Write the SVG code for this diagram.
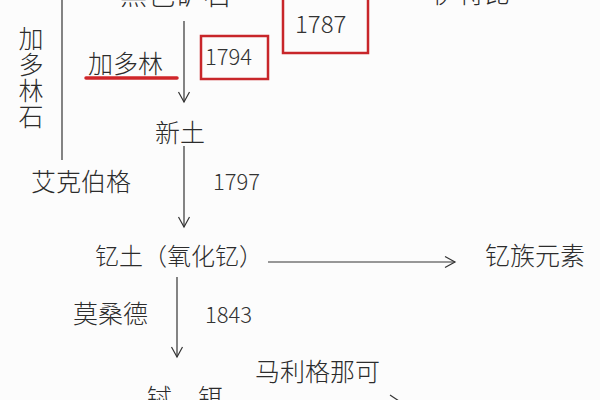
<svg xmlns="http://www.w3.org/2000/svg" width="600" height="400" viewBox="0 0 600 400">
<style>
.t{font-family:"Noto Sans CJK SC","Noto Sans",sans-serif;font-weight:300;fill:#2c2c2c;font-size:25px}
.n{font-family:"Noto Sans CJK SC","Noto Sans",sans-serif;font-weight:300;fill:#333;font-size:22px}
.ln{stroke:#333;stroke-width:1.2;fill:none}
.box{fill:none;stroke:#c8262a;stroke-width:2.5}
</style>
<defs>
<marker id="ah" markerUnits="userSpaceOnUse" markerWidth="16" markerHeight="16" viewBox="-12 -8 14 16" refX="0" refY="0" orient="auto">
<path d="M-10,-5.5 L0,0 L-10,5.5" fill="none" stroke="#333" stroke-width="1.2"/>
</marker>
</defs>
<rect width="600" height="400" fill="#fcfcfc"/>
<g id="connectors">
<line class="ln" x1="62" y1="0" x2="62" y2="160"/>
<line class="ln" x1="184" y1="21" x2="184" y2="102" marker-end="url(#ah)"/>
<line class="ln" x1="184" y1="146" x2="184" y2="227" marker-end="url(#ah)"/>
<line class="ln" x1="268" y1="262" x2="455" y2="262" marker-end="url(#ah)"/>
<line class="ln" x1="177" y1="277" x2="177" y2="357" marker-end="url(#ah)"/>
<line class="ln" x1="390" y1="395" x2="405" y2="405"/>
</g>
<g id="n-heise"><text class="t" x="120" y="5" style="font-size:27px;letter-spacing:1px">黑色矿石</text></g>
<g id="n-yitebi"><text class="t" x="432" y="3" style="font-size:26px">伊特比</text></g>
<g id="n-1787"><rect class="box" x="283" y="-5" width="85" height="58"/><text class="n" x="295" y="33" style="font-size:24px">1787</text></g>
<g id="n-jiaduolinshi"><text class="t" x="31" y="26" style="writing-mode:vertical-rl;letter-spacing:1px">加多林石</text></g>
<g id="n-jiaduolin"><text class="t" x="88" y="73">加多林</text><line x1="86" y1="78" x2="177" y2="78" stroke="#d0262a" stroke-width="3.5" stroke-linecap="round"/></g>
<g id="n-1794"><rect class="box" x="201" y="36" width="67" height="43"/><text class="n" x="205" y="65">1794</text></g>
<g id="n-xintu"><text class="t" x="155" y="142">新土</text></g>
<g id="n-aikebaige"><text class="t" x="31" y="191">艾克伯格</text></g>
<g id="n-1797"><text class="n" x="213" y="190">1797</text></g>
<g id="n-yitu"><text class="t" x="95" y="265" style="font-size:24px">钇土（氧化钇）</text></g>
<g id="n-yizu"><text class="t" x="485" y="265">钇族元素</text></g>
<g id="n-mosangde"><text class="t" x="73" y="323">莫桑德</text></g>
<g id="n-1843"><text class="n" x="205" y="323">1843</text></g>
<g id="n-malige"><text class="t" x="255" y="381">马利格那可</text></g>
<g id="n-te"><text class="t" x="147" y="407">铽</text></g>
<g id="n-er"><text class="t" x="198" y="407">铒</text></g>
</svg>
